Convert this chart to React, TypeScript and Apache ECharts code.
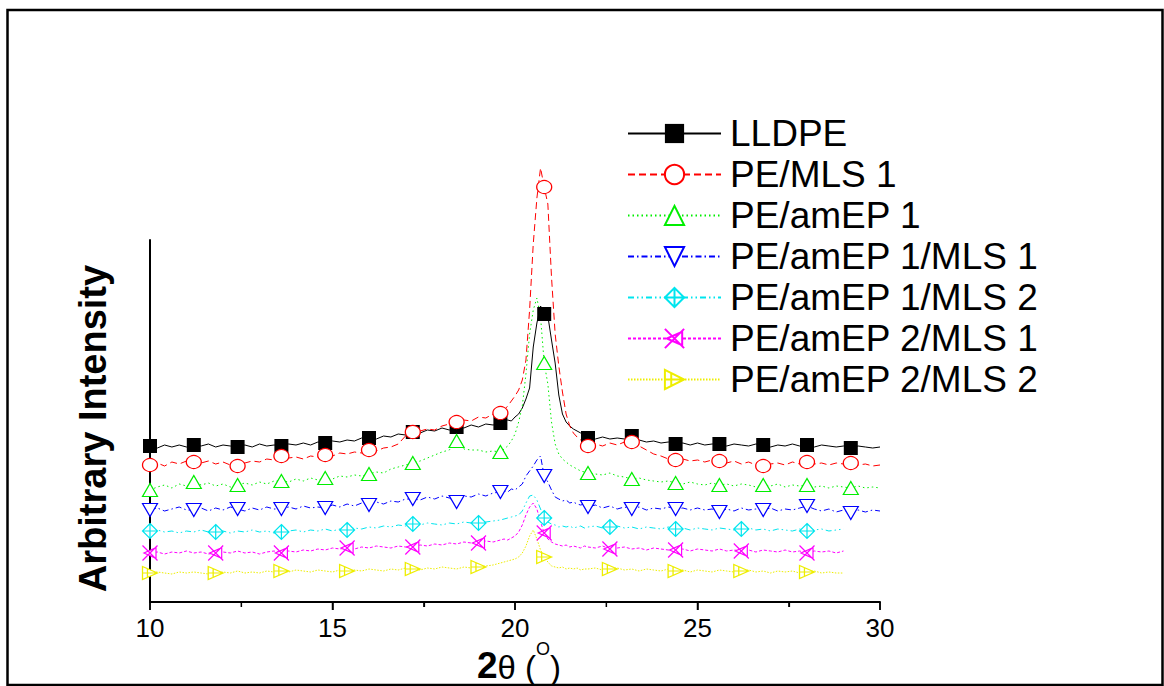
import React, { useEffect, useRef } from 'react';
import * as echarts from 'echarts';

const FONT = "'Liberation Sans', Arial, Helvetica, sans-serif";

// 2θ sampling positions (degrees)
const X_PRE = [10, 10.2, 10.4, 10.6, 10.8, 11, 11.2, 11.4, 11.6, 11.8,
  12, 12.2, 12.4, 12.6, 12.8, 13, 13.2, 13.4, 13.6, 13.8,
  14, 14.2, 14.4, 14.6, 14.8, 15, 15.2, 15.4, 15.6, 15.8,
  16, 16.2, 16.4, 16.6, 16.8, 17, 17.2, 17.4, 17.6, 17.8,
  18, 18.2, 18.4, 18.6, 18.8, 19, 19.2, 19.4, 19.6];
const X_PEAK = [19.7, 19.8, 19.9, 20, 20.1, 20.2, 20.3, 20.4, 20.5, 20.6, 20.7, 20.8,
  20.9, 21, 21.1, 21.2, 21.3, 21.4, 21.5, 21.6, 21.7, 21.8, 21.9];
const X_POST = [22, 22.2, 22.4, 22.6, 22.8, 23, 23.2, 23.4, 23.6, 23.8,
  24, 24.2, 24.4, 24.6, 24.8, 25, 25.2, 25.4, 25.6, 25.8,
  26, 26.2, 26.4, 26.6, 26.8, 27, 27.2, 27.4, 27.6, 27.8,
  28, 28.2, 28.4, 28.6, 28.8, 29, 29.2, 29.4, 29.6, 29.8, 30];
const X_ALL = [...X_PRE, ...X_PEAK, ...X_POST];

// marker positions
const MARKS_A = [10, 11.2, 12.4, 13.6, 14.8, 16, 17.2, 18.4, 19.6, 20.8, 22, 23.2, 24.4, 25.6, 26.8, 28, 29.2];
const MARKS_B = [10, 11.8, 13.6, 15.4, 17.2, 19, 20.8, 22.6, 24.4, 26.2, 28];

// axis ticks
const MAJOR_TICKS = [10, 15, 20, 25, 30];
const MINOR_TICKS = [12.5, 17.5, 22.5, 27.5];

const SERIES_NAMES = ['LLDPE', 'PE/MLS 1', 'PE/amEP 1', 'PE/amEP 1/MLS 1', 'PE/amEP 1/MLS 2', 'PE/amEP 2/MLS 1', 'PE/amEP 2/MLS 2'];

const LLDPE = [
  156, 154, 157, 155, 157, 155, 157, 156, 158, 155,
  157, 156, 155, 157, 155, 158, 156, 157, 156, 158,
  157, 159, 157, 160, 159, 161, 160, 162, 161, 164,
  164, 163, 166, 165, 168, 167, 170, 169, 172, 171,
  174, 172, 175, 174, 177, 175, 178, 177, 179,
  180, 182, 181, 185, 188, 194, 203, 214, 255, 279, 296, 288, 286, 262, 239, 207, 188, 180, 176, 173, 171, 169, 167,
  164, 163, 165, 163, 164, 163, 166, 162, 160, 161,
  159, 160, 158, 159, 157, 159, 157, 158, 158, 156,
  158, 157, 156, 158, 157, 155, 157, 156, 158, 156,
  157, 155, 157, 156, 155, 156, 154, 156, 155, 154,
  155];

const PE_MLS1 = [
  137, 139, 136, 140, 138, 141, 140, 139, 141, 138,
  140, 137, 136, 139, 141, 140, 143, 142, 146, 144,
  145, 143, 146, 145, 147, 146, 149, 148, 150, 149,
  152, 151, 154, 155, 158, 166, 170, 171, 173, 172,
  176, 178, 180, 182, 181, 185, 184, 188, 189,
  192, 196, 201, 206, 212, 222, 242, 292, 358, 404, 434, 415, 398, 325, 268, 236, 210, 188, 176, 169, 165, 162, 160,
  156, 158, 156, 159, 157, 160, 160, 156, 152, 148,
  146, 143, 142, 143, 141, 142, 140, 142, 141, 139,
  141, 138, 140, 137, 136, 138, 139, 137, 140, 138,
  140, 138, 139, 137, 139, 138, 139, 137, 138, 136,
  137];

const PE_AMEP1 = [
  112, 115, 117, 114, 118, 116, 120, 117, 119, 116,
  118, 115, 117, 119, 117, 120, 118, 121, 121, 120,
  123, 121, 124, 122, 124, 123, 126, 125, 127, 126,
  128, 130, 129, 133, 135, 137, 139, 141, 144, 147,
  150, 152, 161, 153, 152, 152, 150, 151, 150,
  153, 156, 161, 168, 180, 196, 228, 268, 292, 304, 285, 239, 218, 180, 158, 148, 143, 140, 137, 135, 133, 131, 130,
  129, 128, 127, 129, 126, 125, 123, 124, 122, 121,
  120, 121, 119, 118, 120, 118, 117, 119, 117, 118,
  116, 118, 117, 115, 117, 116, 118, 115, 117, 116,
  117, 115, 116, 114, 116, 115, 114, 116, 114, 115,
  114];

const PE_AMEP1_MLS1 = [
  92, 94, 91, 93, 95, 92, 92, 94, 91, 94,
  92, 95, 93, 91, 94, 92, 95, 93, 93, 95,
  93, 96, 94, 95, 94, 97, 95, 98, 96, 99,
  97, 100, 98, 101, 100, 103, 103, 102, 105, 103,
  106, 104, 100, 106, 105, 108, 106, 109, 110,
  111, 110, 113, 112, 115, 118, 126, 131, 136, 142, 146, 126, 120, 112, 105, 103, 101, 102, 99, 100, 98, 97, 98,
  95, 97, 94, 96, 93, 95, 93, 95, 92, 94,
  93, 95, 93, 94, 92, 94, 92, 93, 90, 93,
  91, 94, 92, 93, 92, 94, 91, 93, 92, 94,
  96, 93, 91, 93, 90, 92, 89, 92, 90, 92,
  91];

const PE_AMEP1_MLS2 = [
  71, 72, 70, 71, 69, 71, 70, 72, 70, 70,
  71, 69, 71, 70, 72, 70, 71, 69, 70, 71,
  72, 70, 72, 71, 73, 71, 73, 72, 74, 73,
  75, 74, 76, 75, 77, 76, 78, 77, 79, 78,
  77, 79, 78, 80, 79, 79, 80, 81, 82,
  83, 84, 85, 86, 87, 91, 99, 106, 107, 102, 93, 84, 80, 78, 77, 75, 76, 75, 76, 74, 75, 76, 74,
  75, 76, 74, 75, 76, 74, 75, 73, 75, 74,
  73, 75, 73, 74, 72, 74, 73, 72, 74, 73,
  72, 73, 74, 72, 73, 71, 73, 72, 71, 73,
  71, 72, 73, 71, 72, 73];

const PE_AMEP2_MLS1 = [
  49, 50, 48, 50, 49, 51, 49, 50, 48, 49,
  50, 49, 51, 49, 50, 48, 50, 51, 49, 51,
  50, 52, 51, 53, 52, 54, 53, 54, 53, 55,
  54, 56, 55, 54, 56, 55, 55, 57, 56, 58,
  57, 59, 58, 60, 59, 59, 61, 60, 62,
  63, 62, 64, 66, 70, 77, 87, 95, 99, 93, 80, 69, 63, 60, 58, 57, 56, 57, 55, 56, 55, 54, 56,
  55, 54, 56, 53, 54, 55, 53, 54, 52, 54,
  53, 52, 52, 53, 51, 53, 52, 51, 53, 51,
  52, 51, 52, 50, 52, 51, 50, 52, 50, 51,
  49, 51, 50, 51, 49, 51];

const PE_AMEP2_MLS2 = [
  29, 30, 29, 28, 30, 29, 30, 29, 28, 29,
  30, 29, 31, 29, 30, 29, 31, 30, 31, 30,
  32, 31, 30, 32, 31, 30, 32, 31, 32, 31,
  33, 32, 31, 33, 32, 34, 33, 32, 34, 33,
  35, 34, 33, 35, 34, 35, 36, 37, 39,
  40, 41, 42, 43, 45, 49, 56, 66, 72, 63, 52, 45, 40, 36, 35, 34, 35, 33, 34, 33, 34, 32, 33,
  33, 34, 32, 33, 34, 32, 33, 31, 33, 32,
  31, 33, 31, 32, 30, 32, 31, 30, 32, 31,
  30, 31, 32, 30, 31, 29, 31, 30, 31, 29,
  30, 31, 29, 30, 29, 29];

const SYM_INV_TRI = 'path://M0,0 L10,0 L5,9 Z';
const SYM_TRI = 'path://M5,0 L10,9 L0,9 Z';
const SYM_DIAMOND_CROSS = 'path://M5,0 L10,5 L5,10 L0,5 Z M5,0 L5,10 M0,5 L10,5';
const SYM_X_TRI = 'path://M0,0 L10,10 M10,0 L0,10 M9,1.5 L9,8.5 L1,5 Z';
const SYM_RTRI_CROSS = 'path://M0,0 L10,5 L0,10 Z M0,5 L10,5 M3.3,1.7 L3.3,8.3';

function isMark(x: number, marks: number[]) {
  return marks.some((m) => Math.abs(m - x) < 1e-6);
}

function makeSeries(
  name: string,
  ys: number[],
  marks: number[],
  color: string,
  dash: any,
  symbol: string,
  size: any,
  filled: boolean
) {
  return {
    name,
    type: 'line',
    xAxisIndex: 0,
    yAxisIndex: 0,
    clip: false,
    showAllSymbol: true,
    symbol,
    symbolSize: size,
    data: ys.map((v, i) => {
      const x = X_ALL[i];
      return isMark(x, marks) ? [x, v] : { value: [x, v], symbol: 'none' };
    }),
    lineStyle: { color, width: 1, type: dash },
    itemStyle: filled
      ? { color, borderColor: color, borderWidth: 0 }
      : { color: '#ffffff', borderColor: color, borderWidth: 1.2 },
    emphasis: { disabled: true },
    animation: false,
  };
}

const FRAME = {
  type: 'rect',
  id: 'frame',
  z: 100,
  silent: true,
  shape: { x: 7.5, y: 10, width: 1155, height: 675 },
  style: { fill: 'none', stroke: '#000', lineWidth: 2.5 },
};

export default function App() {
  const ref = useRef<HTMLDivElement>(null);
  useEffect(() => {
    const chart = echarts.init(ref.current!, null, { renderer: 'svg' });
    const option: any = {
      animation: false,
      backgroundColor: '#ffffff',
      grid: { left: 150, right: 284, top: 240, bottom: 84, outerBoundsMode: 'none' },
      xAxis: {
        type: 'value',
        position: 'bottom',
        min: 10,
        max: 30,
        interval: 5,
        name: '{b|2}{r|θ (}{s|O}{r|)}',
        nameLocation: 'middle',
        nameGap: 38,
        nameMoveOverlap: false,
        nameTextStyle: {
          color: '#000',
          fontFamily: FONT,
          padding: [0, 0, 0, 8],
          rich: {
            b: { fontSize: 37, fontWeight: 'bold', fontFamily: FONT, color: '#000', padding: [7, 0, 0, 0], verticalAlign: 'bottom' },
            r: { fontSize: 33, fontFamily: FONT, color: '#000', padding: [7, 0, 0, 0], verticalAlign: 'bottom' },
            s: { fontSize: 18, fontFamily: FONT, color: '#000', verticalAlign: 'top' },
          },
        },
        axisLine: { show: true, onZero: false, lineStyle: { color: '#000000', width: 2 } },
        axisTick: { show: true, length: 8, lineStyle: { color: '#000000', width: 1.5 } },
        minorTick: { show: true, splitNumber: 2, length: 5, lineStyle: { color: '#000000', width: 1.2 } },
        splitLine: { show: false },
        axisLabel: { color: '#000', fontSize: 26, fontFamily: FONT, margin: 13 },
      },
      yAxis: {
        type: 'value',
        min: 0,
        max: 362,
        name: 'Arbitrary Intensity',
        nameLocation: 'middle',
        nameRotate: 90,
        nameGap: 38,
        nameMoveOverlap: false,
        nameTextStyle: {
          color: '#000',
          fontSize: 38,
          fontWeight: 'bold',
          fontFamily: FONT,
          padding: [0, 15, 0, 0],
        },
        axisLine: { show: true, onZero: false, lineStyle: { color: '#000', width: 2 } },
        axisTick: { show: false },
        axisLabel: { show: false },
        splitLine: { show: false },
      },
      legend: {
        orient: 'vertical',
        left: 627,
        top: 113,
        padding: 0,
        itemWidth: 93,
        itemHeight: 24,
        itemGap: 0,
        selectedMode: false,
        data: SERIES_NAMES,
        textStyle: {
          fontSize: 37,
          fontFamily: FONT,
          color: '#000',
          lineHeight: 41,
          padding: [0, 0, 0, 4],
        },
      },
      series: [
        makeSeries(SERIES_NAMES[0], LLDPE, MARKS_A, '#000000', 'solid', 'rect', 14, true),
        makeSeries(SERIES_NAMES[1], PE_MLS1, MARKS_A, '#ff0000', [7, 4], 'circle', [15, 13], false),
        makeSeries(SERIES_NAMES[2], PE_AMEP1, MARKS_A, '#00ee00', [1.5, 3], SYM_TRI, [15, 13], false),
        makeSeries(SERIES_NAMES[3], PE_AMEP1_MLS1, MARKS_A, '#0000ff', [6, 3, 1.5, 3], SYM_INV_TRI, [15, 13], false),
        makeSeries(SERIES_NAMES[4], PE_AMEP1_MLS2, MARKS_B, '#00e5ee', [6, 3, 1.5, 3, 1.5, 3], SYM_DIAMOND_CROSS, [15, 15], false),
        makeSeries(SERIES_NAMES[5], PE_AMEP2_MLS1, MARKS_B, '#ff00ff', [3, 2], SYM_X_TRI, [15, 15], false),
        makeSeries(SERIES_NAMES[6], PE_AMEP2_MLS2, MARKS_B, '#eeee00', [1.5, 1.5], SYM_RTRI_CROSS, [15, 13], false),
      ],
      graphic: [FRAME],
    };
    chart.setOption(option);

    // bottom axis baseline and ticks, positioned through the chart's own scales
    const extra: any[] = [];
    const a = chart.convertToPixel({ gridIndex: 0 }, [10, 0]) as number[];
    const b = chart.convertToPixel({ gridIndex: 0 }, [30, 0]) as number[];
    if (a && b && isFinite(a[0]) && isFinite(b[0])) {
      extra.push({
        type: 'line',
        id: 'xbase',
        z: 100,
        silent: true,
        shape: { x1: a[0], y1: a[1], x2: b[0], y2: b[1] },
        style: { stroke: '#000', lineWidth: 2 },
      });
      const ticks = [
        ...MAJOR_TICKS.map((x) => ({ x, len: 8, w: 1.5 })),
        ...MINOR_TICKS.map((x) => ({ x, len: 5, w: 1.2 })),
      ];
      ticks.forEach((t, i) => {
        const p = chart.convertToPixel({ gridIndex: 0 }, [t.x, 0]) as number[];
        extra.push({
          type: 'line',
          id: 'xtick' + i,
          z: 100,
          silent: true,
          shape: { x1: p[0], y1: p[1], x2: p[0], y2: p[1] + t.len },
          style: { stroke: '#000', lineWidth: t.w },
        });
      });
      chart.setOption({ graphic: [FRAME, ...extra] });
    }
    return () => chart.dispose();
  }, []);
  return (
    <div
      ref={ref}
      style={{ position: 'absolute', left: 0, top: 0, width: 1164, height: 686 }}
    />
  );
}
